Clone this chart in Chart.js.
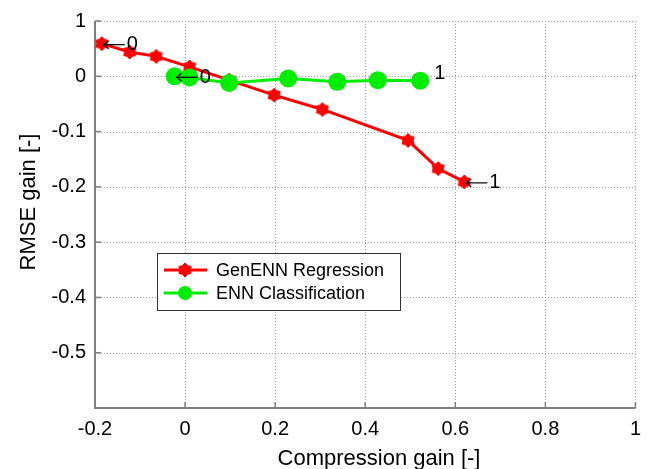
<!DOCTYPE html>
<html><head><meta charset="utf-8">
<script src="https://cdn.jsdelivr.net/npm/chart.js@4/dist/chart.umd.min.js"></script>
<style>html,body{margin:0;padding:0;background:#fff}#wrap{width:650px;height:469px}</style>
</head><body><div id="wrap"><canvas id="c" width="650" height="469"></canvas></div>
<script>
// ---- data ----
const genX = [-0.185, -0.123, -0.064, 0.010, 0.098, 0.198, 0.305, 0.495, 0.562, 0.620];
const genY = [0.059, 0.044, 0.036, 0.017, -0.007, -0.034, -0.060, -0.116, -0.167, -0.191];
const ennX = [-0.023, 0.010, 0.098, 0.229, 0.338, 0.428, 0.522];
const ennY = [0.000, -0.002, -0.012, -0.004, -0.010, -0.007, -0.008];
const xTicks = [-0.2, 0, 0.2, 0.4, 0.6, 0.8, 1];
const xTickLabels = ["-0.2", "0", "0.2", "0.4", "0.6", "0.8", "1"];
const yTicks = [0.1, 0, -0.1, -0.2, -0.3, -0.4, -0.5, -0.6];
const yTickLabels = ["1", "0", "-0.1", "-0.2", "-0.3", "-0.4", "-0.5", ""];
const seriesNames = ["GenENN Regression", "ENN Classification"];
const xTitle = "Compression gain [-]";
const yTitle = "RMSE gain [-]";
// annotations: [series, pointIndex, text, withArrow]
const notes = [["gen", 0, "0", true], ["enn", 0, "0", true], ["gen", 9, "1", true], ["enn", 6, "1", false]];

const FONT = "'Liberation Sans', Arial, sans-serif";
const RED = "#ff0000", GREEN = "#00ee00";

function hexagram(r, color) {
  const c = document.createElement('canvas');
  const s = Math.ceil(r * 2 + 2);
  c.width = s; c.height = s;
  const g = c.getContext('2d');
  const cx = s / 2, cy = s / 2;
  g.fillStyle = color; g.strokeStyle = color; g.lineWidth = 1;
  g.beginPath();
  for (let i = 0; i < 12; i++) {
    const a = -Math.PI / 2 + i * Math.PI / 6;
    const rr = i % 2 === 0 ? r : r * 0.72;
    const x = cx + rr * Math.cos(a), y = cy + rr * Math.sin(a);
    i ? g.lineTo(x, y) : g.moveTo(x, y);
  }
  g.closePath(); g.fill(); g.stroke();
  return c;
}
const starImg = hexagram(7, RED);

const genData = genX.map((x, i) => ({x, y: genY[i]}));
const ennData = ennX.map((x, i) => ({x, y: ennY[i]}));

const L = 95, R = 637, T = 21, B = 408;

const decor = {
  id: 'decor',
  beforeDatasetsDraw(chart) {
    const {ctx} = chart; const xs = chart.scales.x, ys = chart.scales.y;
    ctx.save();
    ctx.strokeStyle = '#9a9a9a'; ctx.lineWidth = 1; ctx.setLineDash([1, 2]);
    xTicks.forEach(v => { if (v === -0.2) return; const p = Math.round(xs.getPixelForValue(v)) + 0.5;
      ctx.beginPath(); ctx.moveTo(p, ys.top); ctx.lineTo(p, ys.bottom); ctx.stroke(); });
    yTicks.forEach(v => { if (v === -0.6) return; const p = Math.round(ys.getPixelForValue(v)) + 0.5;
      ctx.beginPath(); ctx.moveTo(xs.left, p); ctx.lineTo(xs.right, p); ctx.stroke(); });
    ctx.setLineDash([]);
    ctx.strokeStyle = '#7f7f7f'; ctx.lineWidth = 2;
    ctx.beginPath(); ctx.moveTo(xs.left, ys.top); ctx.lineTo(xs.left, ys.bottom); ctx.lineTo(xs.right, ys.bottom); ctx.stroke();
    ctx.lineWidth = 1.5;
    xTicks.forEach(v => { const p = xs.getPixelForValue(v);
      ctx.beginPath(); ctx.moveTo(p, ys.bottom); ctx.lineTo(p, ys.bottom - 6); ctx.stroke(); });
    yTicks.forEach(v => { const p = ys.getPixelForValue(v);
      ctx.beginPath(); ctx.moveTo(xs.left, p); ctx.lineTo(xs.left + 6, p); ctx.stroke(); });
    ctx.restore();
  },
  afterDatasetsDraw(chart) {
    const {ctx} = chart; const xs = chart.scales.x, ys = chart.scales.y;
    ctx.save();
    ctx.fillStyle = '#000'; ctx.strokeStyle = '#000'; ctx.font = '20px ' + FONT;
    ctx.textBaseline = 'middle'; ctx.textAlign = 'left';
    notes.forEach(([s, i, t, arrow]) => {
      const X = s === 'gen' ? genX : ennX, Y = s === 'gen' ? genY : ennY;
      let px = xs.getPixelForValue(X[i]), py = ys.getPixelForValue(Y[i]);
      if (arrow) {
        ctx.lineWidth = 1.2;
        ctx.beginPath(); ctx.moveTo(px + 2, py + 1); ctx.lineTo(px + 23, py + 1); ctx.stroke();
        ctx.beginPath(); ctx.moveTo(px + 7, py - 3); ctx.lineTo(px + 2, py + 1); ctx.lineTo(px + 7, py + 5); ctx.stroke();
        ctx.fillText(t, px + 25, py + 1);
      } else {
        ctx.fillText(t, px + 14, py - 7);
      }
    });
    const bx = 157, by = 253, bw = 243, bh = 57;
    ctx.fillStyle = '#fff'; ctx.fillRect(bx, by, bw, bh);
    ctx.strokeStyle = '#333'; ctx.lineWidth = 1; ctx.strokeRect(bx + 0.5, by + 0.5, bw, bh);
    const rows = [[by + 17, RED, 'star'], [by + 40, GREEN, 'circle']];
    rows.forEach(([yy, col, st], k) => {
      ctx.strokeStyle = col; ctx.lineWidth = 3;
      ctx.beginPath(); ctx.moveTo(bx + 7, yy); ctx.lineTo(bx + 50, yy); ctx.stroke();
      if (st === 'star') ctx.drawImage(starImg, bx + 28 - starImg.width / 2, yy - starImg.height / 2);
      else { ctx.fillStyle = col; ctx.beginPath(); ctx.arc(bx + 28, yy, 7, 0, Math.PI * 2); ctx.fill(); }
      ctx.fillStyle = '#000'; ctx.font = '18px ' + FONT; ctx.textAlign = 'left'; ctx.textBaseline = 'middle';
      ctx.fillText(seriesNames[k], bx + 59, yy + 1);
    });
    ctx.fillStyle = '#000'; ctx.font = '22px ' + FONT; ctx.textAlign = 'center'; ctx.textBaseline = 'middle';
    ctx.fillText(xTitle, 379, 459);
    ctx.translate(29, 202); ctx.rotate(-Math.PI / 2);
    ctx.fillText(yTitle, 0, 0);
    ctx.restore();
  }
};

new Chart(document.getElementById('c'), {
  type: 'line',
  data: { datasets: [
    { label: seriesNames[0], data: genData, borderColor: RED, backgroundColor: RED, borderWidth: 3,
      pointStyle: starImg, pointRadius: 7, pointHoverRadius: 7, tension: 0, order: 2 },
    { label: seriesNames[1], data: ennData, borderColor: GREEN, backgroundColor: GREEN, borderWidth: 3,
      pointStyle: 'circle', pointRadius: 9, pointBorderWidth: 0, pointHoverRadius: 9, tension: 0, order: 1 }
  ]},
  options: {
    responsive: false, animation: false, events: [],
    layout: { padding: { left: 0, right: 650 - R, top: T, bottom: 0 } },
    plugins: { legend: { display: false }, tooltip: { enabled: false } },
    scales: {
      x: { type: 'linear', min: -0.2, max: 1,
        afterBuildTicks: s => { s.ticks = xTicks.map(v => ({value: v})); },
        afterFit: s => { s.height = 469 - B; },
        grid: { display: false, drawTicks: false }, border: { display: false },
        ticks: { color: '#000', font: { family: FONT, size: 20 }, padding: 9, maxRotation: 0,
          callback: v => { const i = xTicks.findIndex(t => Math.abs(t - v) < 1e-9); return i >= 0 ? xTickLabels[i] : ''; } } },
      y: { type: 'linear', min: -0.6, max: 0.1,
        afterBuildTicks: s => { s.ticks = yTicks.map(v => ({value: v})); },
        afterFit: s => { s.width = L; },
        grid: { display: false, drawTicks: false }, border: { display: false },
        ticks: { color: '#000', font: { family: FONT, size: 20 }, padding: 9,
          callback: v => { const i = yTicks.findIndex(t => Math.abs(t - v) < 1e-9); return i >= 0 ? yTickLabels[i] : ''; } } }
    }
  },
  plugins: [decor]
});
</script></body></html>
